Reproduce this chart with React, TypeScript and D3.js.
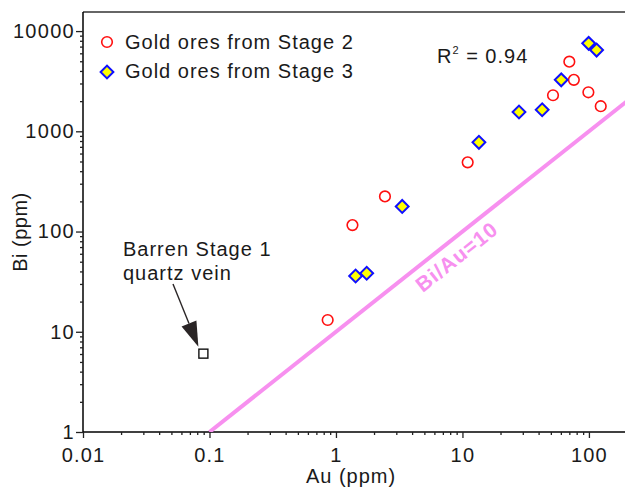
import React, { useEffect, useRef } from "react";
import * as d3 from "d3";

// Au (ppm), Bi (ppm)
const stage2Au = [0.86, 1.35, 2.44, 11, 52, 70, 76, 99, 124];
const stage2Bi = [13.1, 116, 224, 490, 2290, 4950, 3260, 2450, 1780];
const stage3Au = [1.43, 1.75, 3.34, 13.5, 28, 42.7, 60.4, 99.5, 115];
const stage3Bi = [36, 38.4, 178, 776, 1560, 1640, 3260, 7540, 6460];
const barrenAu = [0.0895];
const barrenBi = [6.05];
const xTicks = [0.01, 0.1, 1, 10, 100];
const yTicks = [1, 10, 100, 1000, 10000];
const ratio = 10;
const legendLabels = ["Gold ores from Stage 2", "Gold ores from Stage 3"];

const FONT = "'Liberation Sans', Arial, sans-serif";
const TEXT = "#1a1a1a";
const PINK = "#f790ef";

const App = () => {
  const svgRef = useRef<SVGSVGElement>(null);
  const width = 625, height = 489;
  const margin = { top: 12, right: -2, bottom: 57, left: 83 };

  useEffect(() => {
    document.body.style.overflow = "hidden";
    const root = d3.select(svgRef.current);
    root.selectAll("*").remove();

    const x = d3.scaleLog().domain([0.01, 200]).range([margin.left, width - margin.right]);
    const y = d3.scaleLog().domain([1, 15500]).range([height - margin.bottom, margin.top]);
    const x0 = margin.left, x1 = width - margin.right;
    const y0 = height - margin.bottom, y1 = margin.top;

    root.append("defs").append("clipPath").attr("id", "plotclip")
      .append("rect").attr("x", x0).attr("y", y1).attr("width", x1 - x0).attr("height", y0 - y1);

    // frame: top line
    root.append("line").attr("x1", x0).attr("x2", x1).attr("y1", y1).attr("y2", y1)
      .attr("stroke", "#333").attr("stroke-width", 1.5);

    // x axis
    const xMinor: number[] = [];
    for (let d = 0.01; d < 200; d *= 10) for (let k = 2; k <= 9; k++) if (d * k <= 200) xMinor.push(d * k);
    const gx = root.append("g").attr("transform", `translate(0,${y0})`);
    gx.call(d3.axisBottom(x).tickValues(xTicks).tickSize(6).tickFormat(d => String(d)));
    gx.append("g").call(d3.axisBottom(x).tickValues(xMinor).tickSize(3).tickFormat(() => ""))
      .select(".domain").remove();
    gx.selectAll(".domain").attr("d", `M${x0},0H${x1 + 5}`).attr("stroke-width", 1.5);
    gx.selectAll("line").attr("stroke", "#222").attr("stroke-width", 1.3);
    gx.selectAll("text").attr("font-family", FONT).attr("font-size", 20).attr("fill", TEXT)
      .attr("letter-spacing", 1.2).attr("dy", "1.05em");

    // y axis
    const yMinor: number[] = [];
    for (let d = 1; d < 15500; d *= 10) for (let k = 2; k <= 9; k++) if (d * k <= 15500) yMinor.push(d * k);
    const gy = root.append("g").attr("transform", `translate(${x0},0)`);
    gy.call(d3.axisLeft(y).tickValues(yTicks).tickSize(7).tickFormat(d => String(d)));
    gy.append("g").call(d3.axisLeft(y).tickValues(yMinor).tickSize(3).tickFormat(() => ""))
      .select(".domain").remove();
    gy.selectAll(".domain").attr("d", `M0,${y0}V${y1}`).attr("stroke-width", 1.5);
    gy.selectAll("line").attr("stroke", "#222").attr("stroke-width", 1.3);
    gy.selectAll("text").attr("font-family", FONT).attr("font-size", 20).attr("fill", TEXT)
      .attr("letter-spacing", 1.3).attr("x", -8);

    // axis titles
    root.append("text").attr("x", 351).attr("y", 483).attr("text-anchor", "middle")
      .attr("font-family", FONT).attr("font-size", 20).attr("letter-spacing", 1).attr("fill", TEXT).text("Au (ppm)");
    root.append("text").attr("transform", "translate(27,232) rotate(-90)").attr("text-anchor", "middle")
      .attr("font-family", FONT).attr("font-size", 20).attr("letter-spacing", 0.5).attr("fill", TEXT).text("Bi (ppm)");

    // Bi/Au = 10 line
    const plot = root.append("g").attr("clip-path", "url(#plotclip)");
    const lineAu = [0.1, 200];
    plot.append("path")
      .attr("d", d3.line<number>().x(d => x(d)).y(d => y(d * ratio))(lineAu))
      .attr("stroke", PINK).attr("stroke-width", 4).attr("fill", "none");
    const ang = Math.atan2(y(100) - y(10), x(10) - x(1)) * 180 / Math.PI;
    root.append("text").attr("transform", `translate(${x(9)},${y(56)}) rotate(${ang})`)
      .attr("text-anchor", "middle").attr("dy", "0.35em").attr("font-family", FONT).attr("font-weight", "bold")
      .attr("font-size", 21).attr("letter-spacing", 1).attr("fill", PINK).text("Bi/Au=10");

    // stage 2: red open circles
    plot.selectAll(".s2").data(stage2Au).enter().append("circle")
      .attr("cx", d => x(d)).attr("cy", (d, i) => y(stage2Bi[i])).attr("r", 5.3)
      .attr("fill", "none").attr("stroke", "#ff1010").attr("stroke-width", 1.6);

    // stage 3: yellow diamonds
    const diamond = d3.symbol().type(d3.symbolSquare).size(82);
    plot.selectAll(".s3").data(stage3Au).enter().append("path")
      .attr("d", diamond)
      .attr("transform", (d, i) => `translate(${x(d)},${y(stage3Bi[i])}) rotate(45)`)
      .attr("fill", "#ffff00").attr("stroke", "#1010ff").attr("stroke-width", 2);

    // barren stage 1
    plot.selectAll(".s1").data(barrenAu).enter().append("rect")
      .attr("x", d => x(d) - 4.5).attr("y", (d, i) => y(barrenBi[i]) - 4.5)
      .attr("width", 9).attr("height", 9)
      .attr("fill", "white").attr("stroke", "#111").attr("stroke-width", 1.4);

    // annotation
    const ann = root.append("text").attr("font-family", FONT).attr("font-size", 20)
      .attr("letter-spacing", 1).attr("fill", TEXT);
    ann.append("tspan").attr("x", 123).attr("y", 256).text("Barren Stage 1");
    ann.append("tspan").attr("x", 123).attr("y", 280).text("quartz vein");
    const tip = [x(barrenAu[0]) - 5, y(barrenBi[0]) - 7];
    const start = [173, 284];
    const dx = tip[0] - start[0], dy = tip[1] - start[1];
    const len = Math.hypot(dx, dy), ux = dx / len, uy = dy / len;
    const headLen = 25, headW = 8;
    const bx = tip[0] - ux * headLen, by = tip[1] - uy * headLen;
    root.append("line").attr("x1", start[0]).attr("y1", start[1]).attr("x2", bx).attr("y2", by)
      .attr("stroke", "#2a2526").attr("stroke-width", 1.4);
    root.append("path")
      .attr("d", `M${tip[0]},${tip[1]}L${bx - uy * headW},${by + ux * headW}L${bx + uy * headW},${by - ux * headW}Z`)
      .attr("fill", "#2a2526");

    // R²
    const r2 = root.append("text").attr("x", 437).attr("y", 63).attr("font-family", FONT)
      .attr("font-size", 20).attr("letter-spacing", 1).attr("fill", TEXT);
    r2.append("tspan").text("R");
    r2.append("tspan").attr("font-size", 11).attr("dy", -9).text("2");
    r2.append("tspan").attr("dy", 9).text(" = 0.94");

    // legend
    const lg = root.append("g");
    lg.append("circle").attr("cx", 107).attr("cy", 42).attr("r", 5.3)
      .attr("fill", "none").attr("stroke", "#ff1010").attr("stroke-width", 1.6);
    lg.append("path").attr("d", diamond).attr("transform", "translate(107,72) rotate(45)")
      .attr("fill", "#ffff00").attr("stroke", "#1010ff").attr("stroke-width", 2);
    lg.selectAll(".lt").data(legendLabels).enter().append("text")
      .attr("x", 125).attr("y", (d, i) => 49 + i * 29)
      .attr("font-family", FONT).attr("font-size", 20).attr("letter-spacing", 1)
      .attr("fill", TEXT).text(d => d);
  }, []);

  return (
    <div style={{ position: "fixed", left: 0, top: 0 }}>
      <svg ref={svgRef} width={width} height={height} style={{ display: "block", background: "white" }}></svg>
    </div>
  );
};

export default App;
